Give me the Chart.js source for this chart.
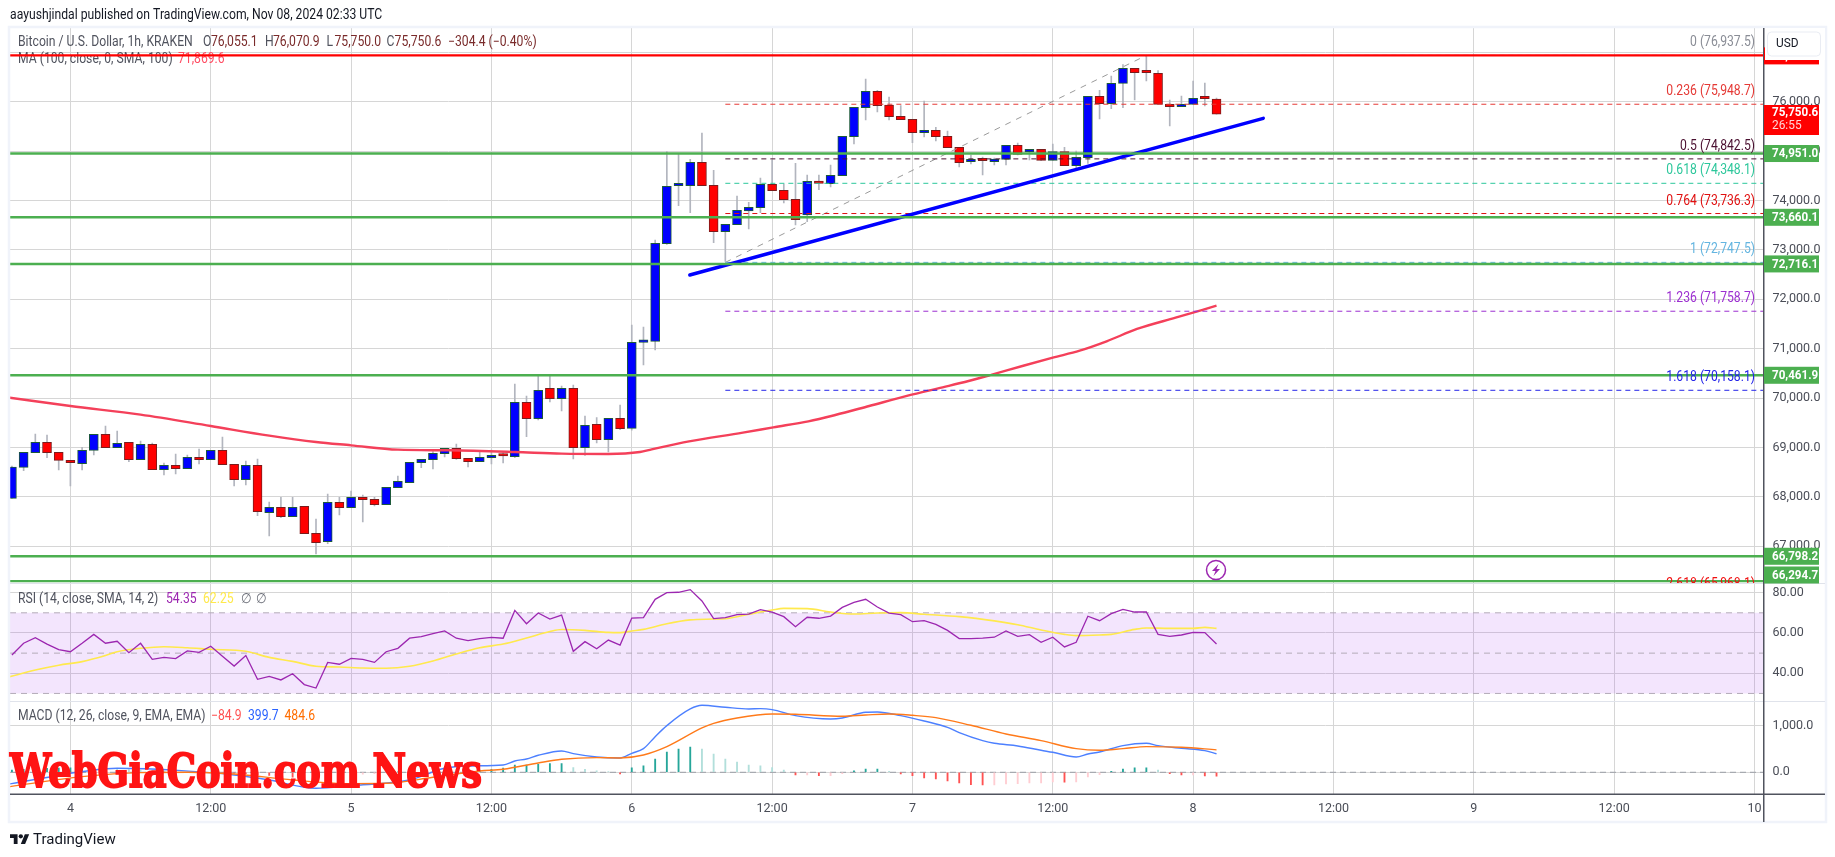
<!DOCTYPE html>
<html><head><meta charset="utf-8"><title>BTC/USD</title>
<script src="https://cdn.jsdelivr.net/npm/chart.js@4"></script>
<style>html,body{margin:0;padding:0;background:#fff;overflow:hidden}#w{width:1835px;height:857px;position:relative}</style>
</head><body><div id="w"><canvas id="c" width="1835" height="857"></canvas></div>
<script>
// Hours since Nov 4 00:00 for each candle
const hours=[-5,-4,-3,-2,-1,0,1,2,3,4,5,6,7,8,9,10,11,12,13,14,15,16,17,18,19,20,21,22,23,24,25,26,27,28,29,30,31,32,33,34,35,36,37,38,39,40,41,42,43,44,45,46,47,48,49,50,51,52,53,54,55,56,57,58,59,60,61,62,63,64,65,66,67,68,69,70,71,72,73,74,75,76,77,78,79,80,81,82,83,84,85,86,87,88,89,90,91,92,93,94,95,96,97,98];
const opens=[67971,68599,68896,69105,68902,68740,68673,68943,69267,68997,69105,68754,69064,68551,68639,68572,68801,68754,68943,68659,68349,68639,67681,67789,67600,67809,67262,67094,67890,67782,67991,67951,67843,68187,68288,68693,68754,68875,68983,68781,68713,68794,68841,68814,69914,69584,70198,69989,70198,68997,69469,69159,69591,69388,71129,71149,73126,74300,74300,74772,74307,73369,73511,73787,73855,74327,74206,74023,73706,74388,74341,74503,75292,75879,76210,75933,75704,75643,75373,75420,75299,75076,74786,74813,74786,74833,75117,74982,75036,74813,74988,74705,74867,76109,75960,76372,76675,76594,76574,75947,75899,75947,76068,76055];
const highs=[68626,68902,69273,69253,68902,68740,69003,69267,69435,69334,69105,69132,69091,68686,68868,68848,68970,68943,69213,68659,68727,68767,67897,67991,67991,67809,67553,68059,67991,68120,68038,67991,68194,68423,68700,68761,68916,68983,69071,68781,68929,68949,68896,70286,70043,70448,70468,70245,70265,69638,69604,69591,69860,71480,71440,73201,74988,74941,74833,75366,74611,73517,74091,73963,74455,74820,74334,74752,74516,74516,74719,75299,75886,76459,76230,76095,75920,75643,76014,75481,75407,75076,74921,74880,74860,75117,75164,75036,75036,75144,75076,75002,76109,76230,76520,76750,76675,76939,76628,76034,76115,76419,76378,76071];
const lows=[67971,68531,68896,68794,68545,68221,68545,68848,68997,68997,68713,68754,68551,68443,68464,68572,68666,68754,68653,68221,68241,67620,67208,67580,67600,67256,66844,67053,67634,67782,67492,67816,67843,68187,68288,68592,68565,68808,68761,68605,68713,68666,68686,68794,69219,69557,69921,69739,68767,68841,69091,68909,69361,69350,70670,70974,73112,73895,73754,74300,73146,72768,73511,73423,73754,74199,73950,73504,73571,74219,74273,74503,75144,75629,75791,75629,75636,75171,75285,75204,75069,74678,74739,74516,74719,74719,74921,74820,74806,74813,74705,74644,74752,75650,75859,75879,76034,76419,75947,75508,75899,75947,75913,75750];
const closes=[68605,68902,69105,68896,68740,68693,68943,69267,68997,69084,68754,69064,68551,68639,68572,68801,68754,68943,68653,68349,68639,67701,67789,67600,67789,67256,67073,67890,67782,67991,67944,67843,68194,68315,68700,68761,68882,68983,68774,68713,68801,68841,68828,69914,69584,70157,69989,70198,68997,69449,69159,69591,69381,71129,71143,73133,74287,74307,74772,74300,73369,73517,73801,73861,74327,74199,74017,73612,74388,74347,74509,75299,75886,76210,75920,75697,75636,75373,75420,75292,75069,74766,74793,74806,74840,75117,74934,75036,74813,74988,74705,74874,76109,75960,76372,76675,76588,76588,75947,75899,75947,76068,76061,75750];
// Moving average
const maHours=[-5.2,0,6,12,17,21,24,28,32.4,38,42,46,48.7,49.7,52.9,57.5,60.1,63.1,65.4,68.3,71.6,74.2,76.8,78.8,81.4,84,86.3,88.6,91.2,94.5,98];
const maValues=[70009,69840,69665,69435,69240,69111,69044,68956,68943,68909,68875,68869,68909,68963,69125,69300,69408,69530,69658,69840,70049,70198,70346,70475,70650,70819,70960,71149,71399,71628,71870];
// Horizontal levels
const greenLevels=[74951.0,73660.1,72716.1,70461.9,66798.2,66294.7];
const redLevel=76937.5;
const fibRatios=['0','0.236','0.5','0.618','0.764','1','1.236','1.618','2.618'];
const fibValues=[76937.5,75948.7,74842.5,74348.1,73736.3,72747.5,71758.7,70158.1,65968.1];
const fibColors=['#8a8d96','#e53935','#4a1030','#2cc79b','#e01010','#64b5e0','#9c2fd0','#2424e8','#f01010'];
const fibStartHour=56;
const fibDiagonalHours=[56,92];
const fibDiagonalValues=[72747.5,76937.5];
const trendHours=[52.96,102];
const trendValues=[72492,75664];
// RSI
const rsiValues=[49.1,54.9,57.7,54.5,51.7,50.7,54.9,59.3,54.9,55.9,50.2,54.9,46.9,47.9,47.3,51.1,50.4,53.4,48.4,43.6,48.8,37.0,38.5,36.7,39.8,34.4,32.7,45.4,44.5,47.4,46.9,45.4,50.7,52.4,57.4,58.2,59.7,61.0,57.4,56.2,57.2,57.8,57.4,71.2,64.6,69.9,66.9,68.9,50.9,55.7,52.2,56.5,54.0,67.4,67.6,76.7,80.0,80.2,81.5,75.9,67.1,67.6,69.1,69.4,71.6,70.4,68.1,63.1,67.8,67.3,68.4,72.7,75.2,76.7,72.9,69.9,69.1,65.6,66.1,64.3,61.3,57.2,57.2,57.4,57.9,61.0,58.3,59.2,55.4,57.9,53.1,55.4,68.3,66.1,69.6,71.7,70.4,70.4,59.3,58.3,59.0,60.3,60.2,54.5];
const rsiMaHours=[-5.2,-3,-1,1,3,4,6,8,10,12,15,17,19,21,23,25,27,29,31,33,35,37,39,41,42,44,46,47,48,49,51,53,55,56,58,60,61,63,65,67,69,71,73,76,79,81,83,85,86,88,89,91,92,94,96,97,98];
const rsiMaValues=[38.3,41.6,44,45.8,48.8,50.7,52.4,53.2,52.7,51.9,50.9,47.9,45.9,43.5,43.1,42.6,42.5,43.5,46.1,49.6,52.7,54.5,57.5,60.7,61.7,61.3,60.3,60.2,61,61.8,64.6,66.5,66.9,67.1,69.3,71.4,72.2,72.1,70.4,69.4,69.9,70.1,69.3,68.1,66,64.1,61.5,59.3,58.7,59,59.3,61.8,62.5,62.3,62.3,62.8,62.3];
const rsiBand=[70,50,30];
// MACD
const macdHours=[-5.2,2,4,9.5,14,17,21,24,29,32,34,37,38,39,40,42,43,45,47,48,49,50,51,53,54,56,58,59,60,62,65,66,68,69,71,73,75,76,78,79,81,83,84,86,87,88,90,92,93,95,97,98];
const macdValues=[-252,50,86,36,-58,-166,-346,-288,-166,86,137,158,245,288,367,461,403,331,310,410,511,770,1008,1368,1447,1404,1368,1375,1354,1224,1152,1174,1296,1303,1224,1109,972,857,684,626,569,475,432,331,396,439,576,626,576,518,468,400];
const signalHours=[-5.2,1,6,10,14,19,24,27,31,35,37,40,42,45,47,49,51,54,55,57,60,62,66,68,70,72,74,77,80,83,86,88,90,92,95,98];
const signalValues=[-310,-94,-7,0,-36,-166,-245,-238,-108,29,65,202,281,317,310,374,554,958,1058,1174,1260,1253,1210,1238,1260,1231,1181,1015,828,684,511,475,511,554,540,485];
const histValues=[50,65,75,85,90,95,105,110,100,80,60,50,40,25,10,5,3,-5,-10,-20,-30,-50,-70,-85,-105,-110,-120,-90,-60,-45,-40,-30,-10,10,30,50,70,75,60,50,50,65,90,158,158,173,187,187,100,65,29,14,-36,94,137,288,439,504,547,504,396,288,223,158,137,100,50,-58,-58,-72,-72,-29,29,72,72,22,-36,-72,-122,-144,-187,-230,-266,-274,-274,-252,-245,-230,-230,-209,-212,-209,-100,-50,22,72,94,94,50,-29,-58,-58,-79,-85];
// Axis ticks
const priceTicks=[67000,68000,69000,70000,71000,72000,73000,74000,75000,76000,77000];
const rsiTicks=[40,60,80];
const macdTicks=[0,1000];
const timeTicks=[0,12,24,36,48,60,72,84,96,108,120,132,144];
const timeLabels=['4','12:00','5','12:00','6','12:00','7','12:00','8','12:00','9','12:00','10'];

const XMIN=-5.165,XMAX=144.77;
const FF='Roboto, "Open Sans", sans-serif';
const wickBar=hours.map((h,i)=>({x:h,y:[lows[i],highs[i]]}));
const bodyBar=hours.map((h,i)=>({x:h,y:[opens[i],closes[i]]}));
const up=closes.map((c,i)=>c>=opens[i]);
const xy=(xs,ys)=>xs.map((x,i)=>({x,y:ys[i]}));
const flat=(a,b,v)=>[{x:a,y:v},{x:b,y:v}];
const histColors=histValues.map((v,i)=>{const p=i?histValues[i-1]:0;return v>=0?(v>=p?'#26a69a':'#b2dfdb'):(v<p?'#ff5252':'#ffcdd2');});

const line=(o)=>Object.assign({type:'line',pointRadius:0,borderWidth:1,fill:false,tension:0,xAxisID:'x',yAxisID:'y',spanGaps:true},o);
const datasets=[
 {type:'bar',label:'wick',data:wickBar,backgroundColor:'#b2b5be',borderWidth:0,barThickness:1,grouped:false,minBarLength:1,order:20,yAxisID:'y',xAxisID:'x'},
 {type:'bar',label:'body',data:bodyBar,backgroundColor:up.map(u=>u?'#0000ff':'#ff0000'),borderColor:up.map(u=>u?'#1d5a3a':'#7a1c1c'),borderWidth:1,borderSkipped:false,barThickness:9,grouped:false,minBarLength:2.4,order:19,yAxisID:'y',xAxisID:'x'},
 line({label:'MA',data:xy(maHours,maValues),borderColor:'#f4405a',borderWidth:2.4,cubicInterpolationMode:'monotone',order:18}),
 line({label:'fibDiag',data:xy(fibDiagonalHours,fibDiagonalValues),borderColor:'#9a9a9a',borderDash:[6,6],order:17})
];
fibValues.forEach((v,i)=>datasets.push(line({label:'fib'+i,data:flat(fibStartHour,XMAX,v),borderColor:fibColors[i],borderDash:[5,4],order:16})));
datasets.push(line({label:'trend',data:xy(trendHours,trendValues),borderColor:'#0000ff',borderWidth:3.4,order:15,borderCapStyle:'round'}));
greenLevels.forEach(v=>datasets.push(line({label:'lvl',data:flat(XMIN,XMAX,v),borderColor:'#4caf50',borderWidth:2.4,order:14})));
datasets.push(line({label:'res',data:flat(XMIN,XMAX,redLevel),borderColor:'#ff0000',borderWidth:2.4,order:13}));
// RSI pane
datasets.push(line({label:'band',data:flat(XMIN,XMAX,rsiBand[0]),yAxisID:'yRsi',borderColor:'#b3abb8',borderDash:[6,5],fill:{value:rsiBand[2]},backgroundColor:'rgba(155,38,238,0.12)',order:30}));
datasets.push(line({label:'b50',data:flat(XMIN,XMAX,rsiBand[1]),yAxisID:'yRsi',borderColor:'#b3abb8',borderDash:[6,5],order:29}));
datasets.push(line({label:'b30',data:flat(XMIN,XMAX,rsiBand[2]),yAxisID:'yRsi',borderColor:'#b3abb8',borderDash:[6,5],order:29}));
datasets.push(line({label:'RSI',data:xy(hours,rsiValues),yAxisID:'yRsi',borderColor:'#9c27b0',borderWidth:1.3,order:9}));
datasets.push(line({label:'RSIMA',data:xy(rsiMaHours,rsiMaValues),yAxisID:'yRsi',borderColor:'#ffe94d',borderWidth:1.6,cubicInterpolationMode:'monotone',order:10}));
// MACD pane
datasets.push(line({label:'zero',data:flat(XMIN,XMAX,0),yAxisID:'yMacd',borderColor:'#9b9ea6',borderDash:[6,4],order:29}));
datasets.push({type:'bar',label:'hist',data:xy(hours,histValues),yAxisID:'yMacd',xAxisID:'x',backgroundColor:histColors,barThickness:1.2,grouped:false,order:12});
datasets.push(line({label:'MACD',data:xy(macdHours,macdValues),yAxisID:'yMacd',borderColor:'#4d80ff',borderWidth:1.4,cubicInterpolationMode:'monotone',order:8}));
datasets.push(line({label:'Signal',data:xy(signalHours,signalValues),yAxisID:'yMacd',borderColor:'#ff7a1a',borderWidth:1.4,cubicInterpolationMode:'monotone',order:7}));

const yBase=(ticks,fmt,extra)=>Object.assign({type:'linear',axis:'y',position:'right',stack:'panes',offset:false,
  grid:{color:'#d6d6d6',lineWidth:1,drawTicks:false},border:{display:false},
  afterFit:s=>{s.width=61.5},
  afterBuildTicks:s=>{s.ticks=ticks.map(v=>({value:v}))},
  ticks:{padding:9,color:'#4a4d57',font:{family:FF,size:12.5},callback:fmt,autoSkip:false}},extra);
const fmt1=v=>Number(v).toLocaleString('en-US',{minimumFractionDigits:1,maximumFractionDigits:1});
const fmt2=v=>Number(v).toFixed(2);

function T(ctx,s,x,y,font,color,align,sq){
  ctx.font=font;ctx.fillStyle=color;ctx.textAlign=align||'left';ctx.textBaseline='middle';
  const w=ctx.measureText(s).width;ctx.fillText(s,x,y,w*(sq||0.87));
}
const F=(n,b)=>(b?'bold ':'')+n+'px '+FF;

const legendPlugin={id:'legendTexts',beforeDatasetsDraw(c){
  const ctx=c.ctx;ctx.save();
  T(ctx,'Bitcoin / U.S. Dollar, 1h, KRAKEN',18,42,F(14),'#50535e');
  [['O',203,'76,055.1'],['H',265,'76,070.9'],['L',326.5,'75,750.0'],['C',386.6,'75,750.6']].forEach(([k,x,v])=>{
    T(ctx,k,x,42,F(14),'#50535e');T(ctx,v,x+8,42,F(14),'#7a2b2b');});
  T(ctx,'\u2212304.4 (\u22120.40%)',448,42,F(14),'#7a2b2b');
  T(ctx,'MA (100, close, 0, SMA, 100)',18,59,F(14),'#50535e');
  T(ctx,'71,869.6',178,59,F(14),'#ff4d63');
  ctx.restore();
}};
const overlayPlugin={id:'overlay',afterDraw(c){
  const ctx=c.ctx,S=c.scales,xs=S.x,ys=S.y;ctx.save();
  // page header
  T(ctx,'aayushjindal published on TradingView.com, Nov 08, 2024 02:33 UTC',10,15,F(14),'#131722');
  // frame and separators
  ctx.strokeStyle='#f0f3fa';ctx.lineWidth=2.5;ctx.strokeRect(9,27,1817,795);
  ctx.fillStyle='#e0e3eb';ctx.fillRect(10,583,1815,1);ctx.fillRect(10,701,1815,1);
  ctx.fillStyle='#50535e';ctx.fillRect(1763,28,1.5,794);ctx.fillRect(10,793.5,1815,1.5);
  // fib labels
  ctx.save();ctx.beginPath();ctx.rect(10,28,1753,555);ctx.clip();
  fibValues.forEach((v,i)=>{const s=fibRatios[i]+' ('+fmt1(v)+')';
    T(ctx,s,1755,ys.getPixelForValue(v)-12.5,F(14),fibColors[i],'right');});
  ctx.restore();
  // price tags
  const tag=(v,y,bg,txt)=>{ctx.fillStyle=bg;ctx.fillRect(1764,y-8.5,55,17);T(ctx,txt,1772,y+.5,F(12.5,true),'#fff','left',0.93);};
  tag(redLevel,ys.getPixelForValue(redLevel)+.5,'#ff0000',fmt1(redLevel));
  ctx.fillStyle='#fff';ctx.fillRect(1765,28,60,32);
  ctx.strokeStyle='#e9ecf3';ctx.lineWidth=1;ctx.beginPath();ctx.roundRect(1767.5,32,53,24,4);ctx.stroke();
  T(ctx,'USD',1776,44,F(12.5),'#131722','left',0.95);
  ctx.fillStyle='#ff0000';ctx.fillRect(1764,105,55,30);
  T(ctx,'75,750.6',1772,113,F(12.5,true),'#fff','left',0.93);
  T(ctx,'26:55',1772,126,F(12.5),'#ffd6d6','left',0.95);
  const shown=[ys.getPixelForValue(74951),ys.getPixelForValue(73660.1),ys.getPixelForValue(72716.1),ys.getPixelForValue(70461.9),ys.getPixelForValue(66798.2),575];
  greenLevels.forEach((v,i)=>tag(v,shown[i],'#4caf50',fmt1(v)));
  // event icon
  const ex=1216,ey=570;
  ctx.beginPath();ctx.arc(ex,ey,9.5,0,Math.PI*2);ctx.fillStyle='#fff';ctx.fill();ctx.strokeStyle='#9c27b0';ctx.lineWidth=1.5;ctx.stroke();
  ctx.beginPath();ctx.moveTo(ex+2.5,ey-6);ctx.lineTo(ex-4,ey+1);ctx.lineTo(ex-.5,ey+1);ctx.lineTo(ex-2.5,ey+6);ctx.lineTo(ex+4,ey-1);ctx.lineTo(ex+.5,ey-1);ctx.closePath();ctx.fillStyle='#9c27b0';ctx.fill();
  // RSI and MACD legends
  T(ctx,'RSI (14, close, SMA, 14, 2)',18,599,F(14),'#50535e');
  T(ctx,'54.35',166,599,F(14),'#9c27b0');T(ctx,'62.25',203,599,F(14),'#ffe94d');
  T(ctx,'\u2205',241,599,F(14),'#6b6e78');T(ctx,'\u2205',256,599,F(14),'#6b6e78');
  T(ctx,'MACD (12, 26, close, 9, EMA, EMA)',18,716,F(14),'#50535e');
  T(ctx,'\u221284.9',211,716,F(14),'#ff5252');T(ctx,'399.7',248,716,F(14),'#2962ff');T(ctx,'484.6',284.5,716,F(14),'#ff6d00');
  // watermark
  ctx.font='bold 47px "DejaVu Serif", serif';ctx.fillStyle='#ff1414';ctx.strokeStyle='#ff1414';ctx.lineWidth=2;ctx.textAlign='left';ctx.textBaseline='alphabetic';
  ctx.fillText('WebGiaCoin.com News',10,787,472);ctx.strokeText('WebGiaCoin.com News',10,787,472);
  // TradingView mark
  ctx.save();ctx.translate(10,832);ctx.scale(.54,.54);ctx.fillStyle='#131722';
  ctx.fill(new Path2D('M14 22H7V11H0V4h14v18zM28 22h-8l7.5-18h8L28 22z'));ctx.beginPath();ctx.arc(20,8,4,0,Math.PI*2);ctx.fill();ctx.restore();
  T(ctx,'TradingView',33,840,F(15.5),'#131722','left',0.97);
  ctx.restore();
}};
new Chart(document.getElementById('c'),{
 data:{datasets},
 plugins:[legendPlugin,overlayPlugin],
 options:{responsive:false,animation:false,events:[],
  layout:{padding:{left:10,top:28,right:10,bottom:35}},
  plugins:{legend:{display:false},tooltip:{enabled:false}},
  scales:{
   x:{type:'linear',min:XMIN,max:XMAX,offset:false,position:'bottom',
      grid:{color:'#d6d6d6',lineWidth:1,drawTicks:false,offset:false},border:{display:false},
      afterFit:s=>{s.height=28},
      afterBuildTicks:s=>{s.ticks=timeTicks.map(v=>({value:v}))},
      ticks:{padding:7,maxRotation:0,autoSkip:false,color:'#4a4d57',font:{family:FF,size:12.5},
        callback:(v)=>timeLabels[timeTicks.indexOf(v)]}},
   y:yBase(priceTicks,fmt1,{min:66257,max:77492,stackWeight:555,weight:1}),
   yRsi:yBase(rsiTicks,fmt2,{min:26.25,max:84.8,stackWeight:118,weight:2}),
   yMacd:yBase(macdTicks,fmt1,{min:-469,max:1540,stackWeight:93,weight:3})
  }
 }
});
</script></body></html>
